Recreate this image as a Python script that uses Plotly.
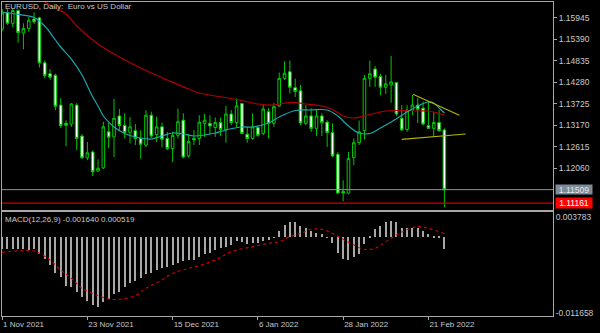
import plotly.graph_objects as go

# ---------------- data ----------------
open_ = [1.1565, 1.1607, 1.1580, 1.1613, 1.1555, 1.1567, 1.1591, 1.1594, 1.1478, 1.1450,
         1.1446, 1.1369, 1.1322, 1.1320, 1.1369, 1.1289, 1.1233, 1.1248, 1.1199, 1.1207,
         1.1300, 1.1287, 1.1341, 1.1317, 1.1299, 1.1303, 1.1283, 1.1266, 1.1343, 1.1293,
         1.1313, 1.1283, 1.1257, 1.1291, 1.1330, 1.1238, 1.1283, 1.1283, 1.1322, 1.1322,
         1.1311, 1.1324, 1.1306, 1.1346, 1.1324, 1.1373, 1.1294, 1.1283, 1.1311, 1.1296,
         1.1352, 1.1322, 1.1367, 1.1438, 1.1455, 1.1414, 1.1406, 1.1322, 1.1341, 1.1309,
         1.1341, 1.1325, 1.1298, 1.1242, 1.1146, 1.1142, 1.1234, 1.1272, 1.1303, 1.1438,
         1.1462, 1.1443, 1.1415, 1.1421, 1.1427, 1.1335, 1.1306, 1.1356, 1.1369, 1.1361,
         1.1316, 1.1309, 1.1324, 1.1305]
high = [1.1617, 1.1618, 1.1617, 1.1616, 1.1580, 1.1596, 1.1608, 1.1597, 1.1484, 1.1462,
        1.1450, 1.1387, 1.1330, 1.1374, 1.1374, 1.1294, 1.1274, 1.1252, 1.1229, 1.1326,
        1.1323, 1.1385, 1.1359, 1.1348, 1.1338, 1.1320, 1.1304, 1.1356, 1.1352, 1.1339,
        1.1324, 1.1300, 1.1300, 1.1360, 1.1348, 1.1294, 1.1305, 1.1343, 1.1346, 1.1343,
        1.1337, 1.1337, 1.1367, 1.1356, 1.1386, 1.1375, 1.1313, 1.1348, 1.1317, 1.1369,
        1.1361, 1.1374, 1.1453, 1.1482, 1.1484, 1.1437, 1.1421, 1.1369, 1.1361, 1.1358,
        1.1348, 1.1330, 1.1322, 1.1248, 1.1175, 1.1248, 1.1283, 1.1329, 1.1447, 1.1484,
        1.1470, 1.1450, 1.1447, 1.1496, 1.1429, 1.1369, 1.1369, 1.1395, 1.1387, 1.1378,
        1.1378, 1.1352, 1.1356, 1.1309]
low = [1.1560, 1.1576, 1.1570, 1.1530, 1.1513, 1.1558, 1.1578, 1.1466, 1.1438, 1.1434,
       1.1356, 1.1310, 1.1263, 1.1313, 1.1253, 1.1231, 1.1227, 1.1186, 1.1197, 1.1204,
       1.1258, 1.1235, 1.1304, 1.1283, 1.1270, 1.1266, 1.1231, 1.1261, 1.1284, 1.1274,
       1.1260, 1.1253, 1.1222, 1.1283, 1.1231, 1.1234, 1.1266, 1.1266, 1.1287, 1.1294,
       1.1287, 1.1289, 1.1272, 1.1317, 1.1311, 1.1294, 1.1272, 1.1280, 1.1287, 1.1291,
       1.1283, 1.1313, 1.1365, 1.1434, 1.1399, 1.1390, 1.1317, 1.1317, 1.1300, 1.1289,
       1.1289, 1.1261, 1.1235, 1.1140, 1.1121, 1.1139, 1.1214, 1.1266, 1.1280, 1.1416,
       1.1416, 1.1395, 1.1398, 1.1375, 1.1341, 1.1303, 1.1300, 1.1343, 1.1323, 1.1317,
       1.1309, 1.1287, 1.1300, 1.1106]
close = [1.1607, 1.1580, 1.1613, 1.1556, 1.1567, 1.1588, 1.1584, 1.1478, 1.1445, 1.1441,
         1.1366, 1.1316, 1.1317, 1.1372, 1.1283, 1.1233, 1.1246, 1.1197, 1.1206, 1.1313,
         1.1286, 1.1335, 1.1316, 1.1298, 1.1313, 1.1283, 1.1268, 1.1343, 1.1289, 1.1313,
         1.1281, 1.1257, 1.1291, 1.1326, 1.1235, 1.1275, 1.1279, 1.1325, 1.1330, 1.1315,
         1.1324, 1.1306, 1.1346, 1.1324, 1.1367, 1.1296, 1.1283, 1.1313, 1.1291, 1.1359,
         1.1322, 1.1365, 1.1438, 1.1451, 1.1415, 1.1404, 1.1323, 1.1341, 1.1309, 1.1341,
         1.1324, 1.1298, 1.1238, 1.1142, 1.1142, 1.1231, 1.1272, 1.1300, 1.1438, 1.1450,
         1.1441, 1.1415, 1.1424, 1.1429, 1.1346, 1.1305, 1.1356, 1.1369, 1.1358, 1.1320,
         1.1309, 1.1324, 1.1303, 1.11509]
bar = list(range(len(close)))   # daily bars, 1 Nov 2021 .. 24 Feb 2022

date_tick_bar = [0, 16, 32, 48, 64, 80]
date_tick_text = ["1 Nov 2021", "23 Nov 2021", "15 Dec 2021", "6 Jan 2022", "28 Jan 2022", "21 Feb 2022"]

price_ticks = [1.15945, 1.15390, 1.14835, 1.14280, 1.13725, 1.13170, 1.12615, 1.12060]

ma_fast_bar = [0, 3, 6, 8, 10, 11, 13, 15, 16, 17, 18, 19, 20, 21, 23, 26, 28, 30, 32, 34, 36, 38,
               40, 42, 45, 47, 50, 52, 55, 58, 61, 63, 65, 67, 69, 71, 73, 76, 78, 80, 81, 82, 83]
ma_fast_val = [1.16092, 1.16030, 1.15950, 1.15731, 1.15370, 1.15189, 1.14879, 1.14467, 1.14183,
               1.13899, 1.13667, 1.13409, 1.13254, 1.13125, 1.12957, 1.12841, 1.12815, 1.12893,
               1.12970, 1.12945, 1.12893, 1.12919, 1.12970, 1.13048, 1.13125, 1.13125, 1.13228,
               1.13383, 1.13551, 1.13564, 1.13564, 1.13409, 1.13151, 1.12970, 1.12957, 1.13099,
               1.13254, 1.13512, 1.13667, 1.13770, 1.13744, 1.13615, 1.13486]

ma_slow_bar = [7, 8, 10, 12, 14, 18, 22, 26, 28, 31, 35, 37, 40, 44, 48, 51, 53, 55, 57, 60, 62,
               64, 66, 69, 72, 75, 78, 80, 82, 83]
ma_slow_val = [1.16420, 1.16350, 1.16195, 1.16040, 1.15731, 1.15266, 1.14931, 1.14647, 1.14518,
               1.14338, 1.14105, 1.14002, 1.13925, 1.13835, 1.13718, 1.13693, 1.13744, 1.13757,
               1.13718, 1.13667, 1.13577, 1.13409, 1.13357, 1.13448, 1.13538, 1.13551, 1.13538,
               1.13538, 1.13473, 1.13435]

macd_main = [-0.00173, -0.00173, -0.00173, -0.00173, -0.00173, -0.00183, -0.00173, -0.00247, -0.00322, -0.00411,
             -0.00520, -0.00594, -0.00718, -0.00732, -0.00802, -0.00891, -0.00950, -0.01000, -0.01039, -0.00965,
             -0.00916, -0.00841, -0.00802, -0.00732, -0.00678, -0.00643, -0.00604, -0.00544, -0.00520, -0.00480,
             -0.00455, -0.00445, -0.00406, -0.00381, -0.00356, -0.00337, -0.00337, -0.00297, -0.00247, -0.00223,
             -0.00188, -0.00163, -0.00134, -0.00109, -0.00049, -0.00074, -0.00099, -0.00089, -0.00089, -0.00049,
             -0.00040, -0.00005, 0.00099, 0.00188, 0.00223, 0.00223, 0.00173, 0.00148, 0.00099, 0.00074,
             0.00049, 0.00005, -0.00089, -0.00223, -0.00322, -0.00337, -0.00297, -0.00247, -0.00099, 0.00025,
             0.00124, 0.00173, 0.00223, 0.00247, 0.00223, 0.00148, 0.00139, 0.00139, 0.00139, 0.00089,
             0.00049, 0.00025, 0.00010, -0.00164]

signal_bar = [0, 6, 7, 9, 11, 13, 15, 18, 20, 22, 25, 27, 30, 32, 35, 37, 40, 43, 47, 50, 52, 54,
              56, 58, 60, 62, 64, 66, 68, 70, 72, 75, 78, 80, 83]
signal_val = [-0.00220, -0.00201, -0.00235, -0.00334, -0.00483, -0.00606, -0.00755, -0.00864,
              -0.00913, -0.00918, -0.00864, -0.00755, -0.00631, -0.00532, -0.00458, -0.00419,
              -0.00334, -0.00211, -0.00137, -0.00087, -0.00062, 0.00012, 0.00062, 0.00121,
              0.00121, 0.00062, -0.00027, -0.00112, -0.00175, -0.00161, -0.00062, 0.00080,
              0.00160, 0.00136, 0.000519]

trend_upper_bar = [77.1, 85.8]
trend_upper_val = [1.13969, 1.13427]
trend_lower_bar = [75.0, 87.0]
trend_lower_val = [1.12808, 1.12945]

bid_price = 1.11509
hline_price = 1.11161
macd_last = -0.001640
signal_last = 0.000519
macd_max, macd_min = 0.003783, -0.011658
price_top, price_bottom = 1.16350, 1.10984
x_first, x_last = -0.02, 103.38

# ---------------- styling ----------------
GREEN = "#00c800"
CYAN = "#1aa6ad"
MAROON = "#b00000"
BORDER = "#a8a8a8"
TXT = "#c8c8c8"
FONT = "Liberation Sans, Arial, sans-serif"

fig = go.Figure()

fig.add_trace(go.Candlestick(
    x=bar, open=open_, high=high, low=low, close=close,
    xaxis="x", yaxis="y", whiskerwidth=0,
    increasing=dict(line=dict(color=GREEN, width=1), fillcolor="black"),
    decreasing=dict(line=dict(color=GREEN, width=1), fillcolor="white"),
    hoverinfo="skip"))

fig.add_trace(go.Scatter(x=ma_slow_bar, y=ma_slow_val, mode="lines", xaxis="x", yaxis="y",
                         line=dict(color=MAROON, width=1.2, shape="spline"), hoverinfo="skip"))
fig.add_trace(go.Scatter(x=ma_fast_bar, y=ma_fast_val, mode="lines", xaxis="x", yaxis="y",
                         line=dict(color=CYAN, width=1.2, shape="spline"), hoverinfo="skip"))
fig.add_trace(go.Scatter(x=trend_upper_bar, y=trend_upper_val, mode="lines", xaxis="x", yaxis="y",
                         line=dict(color="#b4b400", width=1.2), hoverinfo="skip"))
fig.add_trace(go.Scatter(x=trend_lower_bar, y=trend_lower_val, mode="lines", xaxis="x", yaxis="y",
                         line=dict(color="#b4b400", width=1.2), hoverinfo="skip"))

fig.add_trace(go.Bar(x=bar, y=macd_main, width=0.2, xaxis="x2", yaxis="y2",
                     marker=dict(color="#a8a8a8", line=dict(width=0)), hoverinfo="skip"))
fig.add_trace(go.Scatter(x=signal_bar, y=signal_val, mode="lines", xaxis="x2", yaxis="y2",
                         line=dict(color="#dd0000", width=1.1, dash="dot", shape="spline"),
                         hoverinfo="skip"))

# horizontal lines (bid line and user line)
fig.add_shape(type="line", xref="x domain", yref="y", x0=0, x1=1, y0=bid_price, y1=bid_price,
              line=dict(color="#8a96a2", width=1))
fig.add_shape(type="line", xref="x domain", yref="y", x0=0, x1=1, y0=hline_price, y1=hline_price,
              line=dict(color="#d00000", width=1.2))

# pane geometry (fractions of plot height)
top_pix, bot_pix = 2, 316
H = bot_pix - top_pix
price_dom = [(bot_pix - 210) / H, 1]
macd_dom = [0, (bot_pix - 212) / H]

macd_span = macd_max - macd_min
macd_tickvals = [macd_max - macd_span * 5 / 104, macd_min + macd_span * 3.3 / 104]
macd_ticktext = [f"{macd_max:.6f}", f"{macd_min:.6f}"]

common_x = dict(showgrid=False, zeroline=False, showline=True, mirror=True,
                linecolor=BORDER, linewidth=1, range=[x_first, x_last])

fig.update_layout(
    width=600, height=333,
    margin=dict(l=2, r=47, t=top_pix, b=333 - bot_pix),
    paper_bgcolor="black", plot_bgcolor="black",
    showlegend=False, bargap=0,
    font=dict(family=FONT, color=TXT, size=8),
    xaxis=dict(domain=[0, 1], anchor="y", showticklabels=False, ticks="",
               rangeslider=dict(visible=False), **common_x),
    xaxis2=dict(domain=[0, 1], anchor="y2", matches="x", tickvals=date_tick_bar,
                ticktext=date_tick_text, ticks="outside", ticklen=3, tickcolor=BORDER,
                ticklabelposition="outside right",
                tickfont=dict(family=FONT, color=TXT, size=8), **common_x),
    yaxis=dict(domain=price_dom, range=[price_bottom, price_top], side="right",
               tickvals=price_ticks, ticktext=[f"{v:.5f}" for v in price_ticks],
               ticks="outside", ticklen=3, tickcolor=BORDER,
               tickfont=dict(family=FONT, color=TXT, size=8.5),
               showgrid=False, zeroline=False, showline=True, mirror=True,
               linecolor=BORDER, linewidth=1),
    yaxis2=dict(domain=macd_dom, range=[macd_min, macd_max], side="right",
                tickvals=macd_tickvals, ticktext=macd_ticktext, ticks="",
                tickfont=dict(family=FONT, color=TXT, size=8.5),
                showgrid=False, zeroline=False, showline=True, mirror=True,
                linecolor=BORDER, linewidth=1),
)

pw = 600 - 2 - 47
fig.add_annotation(xref="paper", yref="paper", x=(3 - 2) / pw, y=(bot_pix - 7) / H,
                   xanchor="left", yanchor="middle", showarrow=False,
                   text="EURUSD, Daily:  Euro vs US Dollar",
                   font=dict(family=FONT, color=TXT, size=8))
fig.add_annotation(xref="paper", yref="paper", x=(3 - 2) / pw, y=(bot_pix - 219.5) / H,
                   xanchor="left", yanchor="middle", showarrow=False,
                   text=f"MACD(12,26,9) {macd_last:.6f} {signal_last:.6f}",
                   font=dict(family=FONT, color=TXT, size=8))

fig.add_annotation(xref="paper", yref="y", x=(555 - 2) / pw, y=bid_price, xanchor="left",
                   yanchor="middle", showarrow=False, text=f"{bid_price:.5f}",
                   bgcolor="#7d8b99", width=36, height=9, borderpad=0,
                   font=dict(family=FONT, color="#e6e6e6", size=8.5))
fig.add_annotation(xref="paper", yref="y", x=(555 - 2) / pw, y=hline_price, xanchor="left",
                   yanchor="middle", showarrow=False, text=f"{hline_price:.5f}",
                   bgcolor="#ff0000", width=36, height=10, borderpad=0,
                   font=dict(family=FONT, color="white", size=8.5))

fig.write_html("out.html")
